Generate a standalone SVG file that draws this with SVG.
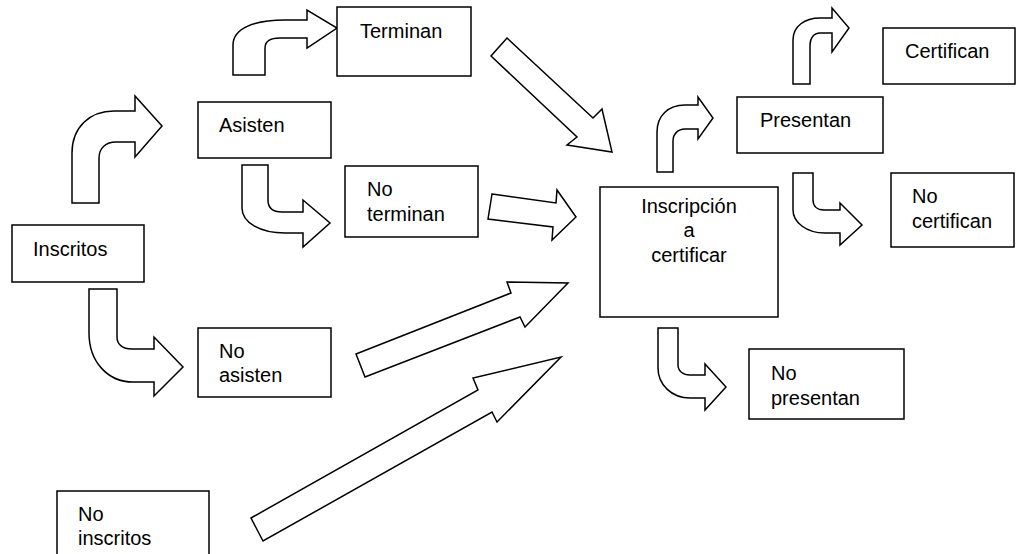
<svg xmlns="http://www.w3.org/2000/svg" width="1016" height="554" viewBox="0 0 1016 554">
<style>
.box{fill:#fff;stroke:#000;stroke-width:1.5}
.arr{fill:#fff;stroke:#000;stroke-width:1.5;stroke-linejoin:miter}
text{font-family:"Liberation Sans",Arial,sans-serif;font-size:20px;fill:#000}
</style>
<rect width="1016" height="554" fill="#fff"/>
<g id="connectors">
<path class="arr" d="M72,203 L72,153 C72,127 90,111 114,111 L135,111 L135,96 L162,126 L135,157 L135,142 L116,142 C106,142 99,148 99,158 L99,203 Z"/>
<path class="arr" d="M89,289 L117,289 L117,337 C117,344 122,349 132,349 L154,349 L154,337 L183,367 L154,396 L154,382 L133,382 C108,382 89,362 89,333 Z"/>
<path class="arr" d="M242,165 L268,165 L268,200 C268,207 272,212 282,212 L303,212 L303,200 L330,223 L303,247 L303,233 L285,233 C261,233 242,223 242,208 Z"/>
<path class="arr" d="M233,75 L233,45 C233,28 255,20 285,20 L307,20 L307,10 L337,28 L307,48 L307,38 L280,38 C270,38 265,42 265,48 L265,75 Z"/>
<path class="arr" d="M657,172 L657,132 C657,116 668,105 685,105 L698,105 L698,97 L713,118 L698,139 L698,129 L685,129 C678,129 673,134 673,141 L673,172 Z"/>
<path class="arr" d="M793,84 L793,40 C793,26 805,18 820,18 L832,18 L832,8 L849,28 L832,52 L832,33 L820,33 C814,33 810,38 810,45 L810,84 Z"/>
<path class="arr" d="M793,173 L813,173 L813,200 C813,206 817,210 824,210 L840,210 L840,203 L862,225 L840,245 L840,233 L825,233 C806,233 793,222 793,210 Z"/>
<path class="arr" d="M658,328 L678,328 L678,365 C678,371 683,375 690,375 L705,375 L705,364 L726,387 L705,410 L705,398 L690,398 C672,398 658,385 658,368 Z"/>
<polygon class="arr" points="507,38 593,118 602,109 612,152 567,145 577,137 491,56"/>
<polygon class="arr" points="492,194 556,203 557,190 576,217 552,240 553,227 488,219"/>
<polygon class="arr" points="356,354 511,293 507,282 568,283 525,327 520,317 365,377"/>
<polygon class="arr" points="251,518 478,390 473,378 561,357 497,422 492,412 263,541"/>
</g>
<g id="inscritos"><rect class="box" x="12" y="225" width="132" height="57"/><text x="33" y="256">Inscritos</text></g>
<g id="asisten"><rect class="box" x="198" y="102" width="133" height="56"/><text x="219" y="132">Asisten</text></g>
<g id="no-asisten"><rect class="box" x="198" y="328" width="133" height="69"/><text x="219" y="358">No</text><text x="219" y="382">asisten</text></g>
<g id="terminan"><rect class="box" x="337" y="7" width="134" height="69"/><text x="360" y="38">Terminan</text></g>
<g id="no-terminan"><rect class="box" x="345" y="166" width="133" height="71"/><text x="367" y="196">No</text><text x="367" y="221">terminan</text></g>
<g id="inscripcion"><rect class="box" x="600" y="187" width="178" height="130"/><text x="689" y="213" text-anchor="middle">Inscripción</text><text x="689" y="237" text-anchor="middle">a</text><text x="689" y="262" text-anchor="middle">certificar</text></g>
<g id="presentan"><rect class="box" x="737" y="97" width="146" height="56"/><text x="760" y="127">Presentan</text></g>
<g id="certifican"><rect class="box" x="883" y="28" width="132" height="56"/><text x="905" y="58">Certifican</text></g>
<g id="no-certifican"><rect class="box" x="891" y="173" width="123" height="74"/><text x="912" y="203">No</text><text x="912" y="228">certifican</text></g>
<g id="no-presentan"><rect class="box" x="749" y="349" width="155" height="70"/><text x="771" y="380">No</text><text x="771" y="405">presentan</text></g>
<g id="no-inscritos"><rect class="box" x="57" y="491" width="152" height="70"/><text x="78" y="521">No</text><text x="78" y="545">inscritos</text></g>
</svg>
